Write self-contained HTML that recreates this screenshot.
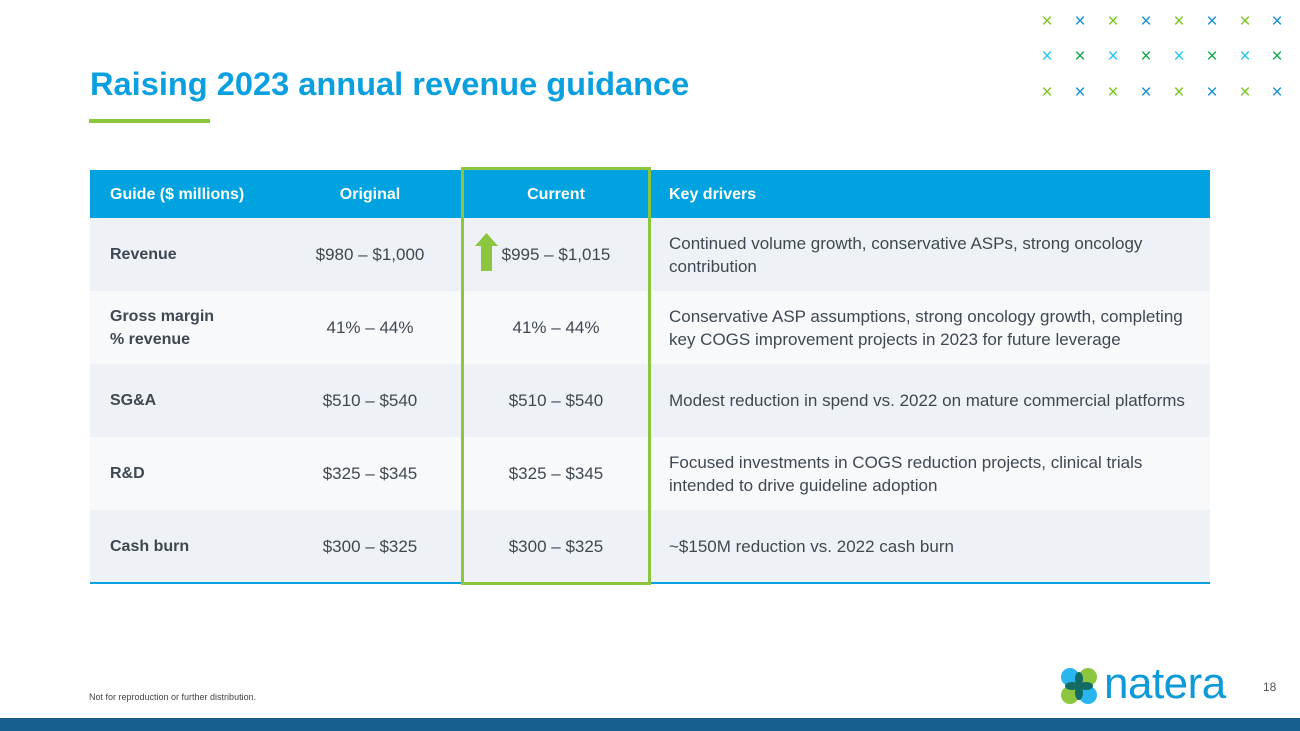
<!DOCTYPE html>
<html><head><meta charset="utf-8"><style>
*{margin:0;padding:0;box-sizing:border-box}
body{width:1300px;height:731px;background:#fff;position:relative;overflow:hidden;font-family:"Liberation Sans",sans-serif;color:#3f4852}
.a{position:absolute}
.x{position:absolute;font-size:19px;line-height:1;width:16px;text-align:center}
.row{position:absolute;left:90px;width:1120px;height:73px}
.c{position:absolute;top:0;height:73px;display:flex;align-items:center;font-size:17px;line-height:23px;white-space:nowrap}
.lab{left:20px;font-weight:bold;width:170px;font-size:16px}
.o{left:190px;width:180px;justify-content:center}
.cu{left:372px;width:188px;justify-content:center}
.k{left:579px;width:540px}
.hd{color:#fff;font-weight:bold;font-size:16px}
</style></head><body>
<div class="a" style="left:90px;top:65px;font-size:32.6px;font-weight:bold;color:#0aa0e0">Raising 2023 annual revenue guidance</div>
<div class="a" style="left:89px;top:119px;width:121px;height:4px;background:#8cc63f"></div>
<div id="xs"></div>

<div class="row" style="top:170px;height:48px;background:#00a3e0">
 <div class="c lab hd" style="height:48px">Guide ($ millions)</div>
 <div class="c o hd" style="height:48px">Original</div>
 <div class="c cu hd" style="height:48px">Current</div>
 <div class="c k hd" style="height:48px">Key drivers</div>
</div>
<div class="row" style="top:218px;background:#eef2f6">
 <div class="c lab">Revenue</div><div class="c o">$980 – $1,000</div><div class="c cu">$995 – $1,015</div>
 <div class="c k">Continued volume growth, conservative ASPs, strong oncology<br>contribution</div>
</div>
<div class="row" style="top:291px;background:#f7f9fb">
 <div class="c lab">Gross margin<br>% revenue</div><div class="c o">41% – 44%</div><div class="c cu">41% – 44%</div>
 <div class="c k">Conservative ASP assumptions, strong oncology growth, completing<br>key COGS improvement projects in 2023 for future leverage</div>
</div>
<div class="row" style="top:364px;background:#eef2f6">
 <div class="c lab">SG&amp;A</div><div class="c o">$510 – $540</div><div class="c cu">$510 – $540</div>
 <div class="c k">Modest reduction in spend vs. 2022 on mature commercial platforms</div>
</div>
<div class="row" style="top:437px;background:#f7f9fb">
 <div class="c lab">R&amp;D</div><div class="c o">$325 – $345</div><div class="c cu">$325 – $345</div>
 <div class="c k">Focused investments in COGS reduction projects, clinical trials<br>intended to drive guideline adoption</div>
</div>
<div class="row" style="top:510px;background:#eef2f6">
 <div class="c lab">Cash burn</div><div class="c o">$300 – $325</div><div class="c cu">$300 – $325</div>
 <div class="c k">~$150M reduction vs. 2022 cash burn</div>
</div>
<div class="a" style="left:90px;top:582px;width:1120px;height:2px;background:#0aa0e0"></div>
<div class="a" style="left:461px;top:167px;width:190px;height:418px;border:3px solid #8cc63f"></div>
<svg class="a" style="left:475px;top:233px" width="23" height="38"><polygon points="11.5,0 23,13 17,13 17,38 6,38 6,13 0,13" fill="#8cc63f"/></svg>

<div class="a" style="left:89px;top:692px;font-size:9px;color:#444">Not for reproduction or further distribution.</div>
<svg class="a" style="left:1060px;top:667px" width="38" height="38">
 <circle cx="10" cy="10" r="9" fill="#29b6ee"/><circle cx="28" cy="10" r="9" fill="#8cc63f"/>
 <circle cx="10" cy="28" r="9" fill="#8cc63f"/><circle cx="28" cy="28" r="9" fill="#29b6ee"/>
 <ellipse cx="19" cy="12" rx="4" ry="7" fill="#136b63"/><ellipse cx="19" cy="26" rx="4" ry="7" fill="#136b63"/>
 <ellipse cx="12" cy="19" rx="7" ry="4" fill="#136b63"/><ellipse cx="26" cy="19" rx="7" ry="4" fill="#136b63"/>
</svg>
<div class="a" style="left:1104px;top:659px;font-size:44px;color:#0e9ad7;letter-spacing:-0.5px">natera</div>
<div class="a" style="left:1263px;top:680px;font-size:12px;color:#555">18</div>
<div class="a" style="left:0;top:718px;width:1300px;height:13px;background:#175f8f"></div>
<script>
const xcols=[1047,1080,1113,1146,1179,1212,1245,1277];
const xrows=[22,57,93];
const c=document.getElementById('xs');
xrows.forEach((y,r)=>xcols.forEach((x,i)=>{
 const d=document.createElement('div');d.className='x';
 
 
 d.textContent='×';
 d.style.left=(x-8)+'px';d.style.top=(y-10)+'px';
 d.style.color = r===1 ? (i%2?'#13a64b':'#22c4ee') : (i%2?'#1590d4':'#7cc420');
 c.appendChild(d);
}));
</script>
</body></html>
